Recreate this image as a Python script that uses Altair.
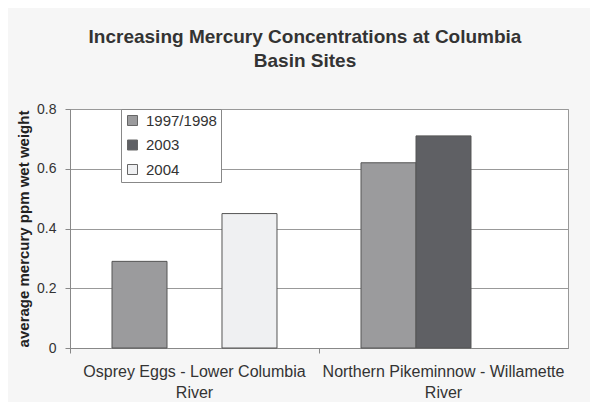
import altair as alt
import pandas as pd

# ---- data ----
sites = [
    "Osprey Eggs - Lower Columbia River",
    "Northern Pikeminnow - Willamette River",
]
periods = ["1997/1998", "2003", "2004"]
period_colors = ["#9b9b9d", "#5f6064", "#eff0f2"]

row_site = [sites[0], sites[0], sites[1], sites[1]]
row_period = ["1997/1998", "2004", "1997/1998", "2003"]
row_value = [0.29, 0.45, 0.62, 0.71]

y_ticks = [0, 0.2, 0.4, 0.6, 0.8]

df = pd.DataFrame({"site": row_site, "period": row_period, "value": row_value})

FONT = "Liberation Sans"

bars = alt.Chart(df).mark_bar(stroke="#555555", strokeWidth=1).encode(
    x=alt.X(
        "site:N",
        sort=sites,
        scale=alt.Scale(domain=sites, paddingInner=0, paddingOuter=0),
        axis=alt.Axis(
            title=None,
            bandPosition=0,
            labelExpr="[replace(datum.label, ' River', ''), 'River']",
            labelFontSize=16,
            labelColor="#333333",
            labelPadding=10,
            labelLineHeight=21,
            labelAngle=0,
            labelLimit=0,
            tickSize=5,
            tickColor="#888888",
            domainColor="#888888",
            labelFont=FONT,
        ),
    ),
    xOffset=alt.XOffset(
        "period:N",
        sort=periods,
        scale=alt.Scale(domain=periods, paddingInner=0, paddingOuter=0.764),
    ),
    y=alt.Y(
        "value:Q",
        scale=alt.Scale(domain=[0, 0.8], nice=False),
        axis=alt.Axis(
            title="average mercury ppm wet weight",
            values=y_ticks,
            format=".1~f",
            labelFontSize=14,
            labelColor="#333333",
            labelPadding=9,
            tickSize=5,
            tickColor="#888888",
            domainColor="#888888",
            gridColor="#999999",
            titleFontSize=15,
            titleFontWeight="bold",
            titleColor="#222222",
            titlePadding=5,
            labelFont=FONT,
            titleFont=FONT,
        ),
    ),
    color=alt.Color(
        "period:N",
        sort=periods,
        scale=alt.Scale(domain=periods, range=period_colors),
        legend=alt.Legend(
            title=None,
            orient="none",
            legendX=51,
            legendY=0,
            symbolType="square",
            symbolSize=100,
            symbolStrokeColor="#666666",
            symbolStrokeWidth=1,
            labelFontSize=15,
            labelColor="#333333",
            labelFont=FONT,
            labelOffset=6,
            rowPadding=8.5,
            padding=4,
            fillColor="white",
            strokeColor="#888888",
        ),
    ),
)

chart = bars.properties(
    width=498,
    height=239,
    background="#f6f6f6",
    padding={"left": 62, "top": 101, "right": 22, "bottom": 54},
    autosize=alt.AutoSizeParams(type="none"),
    title=alt.TitleParams(
        text=["Increasing Mercury Concentrations at Columbia", "Basin Sites"],
        font=FONT,
        fontSize=19,
        fontWeight="bold",
        color="#333333",
        anchor="middle",
        dx=-14,
        offset=31,
        lineHeight=24,
    ),
).configure_view(fill="white", stroke="#999999", strokeWidth=1)

chart.save("out.html", embed_options={"renderer": "svg", "actions": False})
